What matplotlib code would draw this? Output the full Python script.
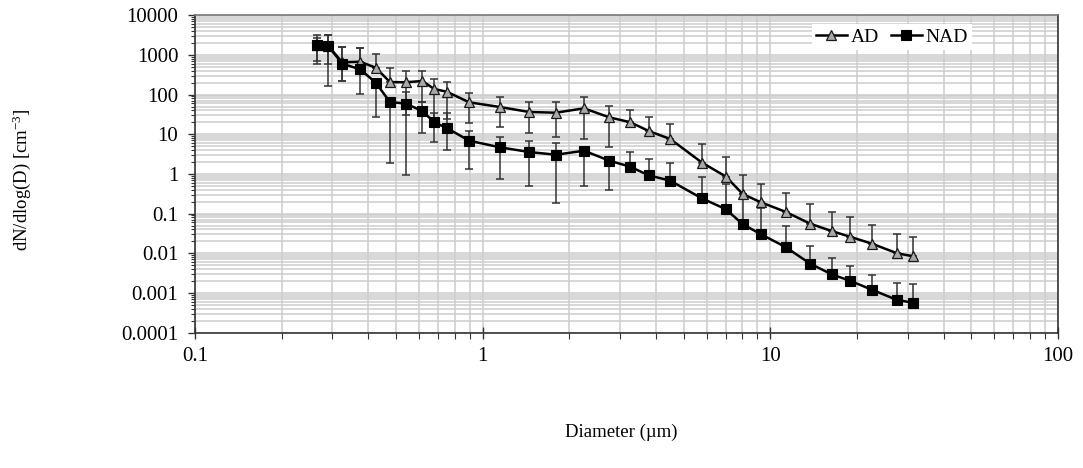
import numpy as np
import matplotlib
matplotlib.use("Agg")
import matplotlib.pyplot as plt
from matplotlib.ticker import FixedLocator, FixedFormatter, LogLocator, NullFormatter
from matplotlib.lines import Line2D

# Particle diameter bins (µm)
diameter_um = [0.265, 0.290, 0.325, 0.375, 0.425, 0.476, 0.541, 0.617, 0.679, 0.750,
               0.898, 1.148, 1.452, 1.798, 2.25, 2.755, 3.26, 3.776, 4.49, 5.78,
               7.01, 8.01, 9.27, 11.3, 13.76, 16.33, 18.91, 22.55, 27.6, 31.3]

# AD series: mean dN/dlog(D) and the ends of its error bars (None = no bar on that side)
ad_values = [1800, 1700, 650, 673, 475, 207, 204, 220, 138, 118,
             63.8, 48.6, 36.4, 34.9, 45.1, 26.7, 20.1, 12.1, 7.59, 1.94,
             0.857, 0.313, 0.193, 0.111, 0.0557, 0.0365, 0.0262, 0.0175, 0.0100, 0.00845]
ad_upper = [3170, 3170, 1550, 1465, 1033, 459, 399, 399, 247, 211,
            111, 85.3, 63.8, 63.8, 85.3, 51.5, 40.8, 27.7, 18.4, 5.68,
            2.6, 0.968, 0.568, 0.337, 0.175, 0.11, 0.0837, 0.0526, 0.0312, 0.0258]
ad_lower = [712, 578, 220, None, None, None, 30.5, 63.8, 22.9, 24.2,
            19.5, 15.0, 10.9, 8.67, 7.59, 4.86, None, None, None, None,
            None, None, None, None, None, None, None, None, None, None]

# NAD series
nad_values = [1774, 1702, 600, 433, 199, 65, 58.9, 38.5, 20.0, 14.4,
              6.88, 4.69, 3.57, 3.05, 3.85, 2.16, 1.52, 0.925, 0.676, 0.243,
              0.129, 0.0542, 0.0303, 0.0144, 0.00547, 0.00296, 0.00204, 0.00121, 0.000667, 0.00057]
nad_upper = [2660, 3170, 1550, 1465, None, None, 114, 63.8, 34.9, 34.9,
             12.3, 8.67, 6.88, 5.92, None, None, 3.57, 2.42, 1.85, 0.851,
             0.548, 0.313, 0.135, 0.0488, 0.0153, 0.0075, 0.00471, 0.00279, 0.00176, 0.00166]
nad_lower = [578, 167, 220, 103, 27.7, 1.85, 0.94, 10.9, 6.49, 4.01,
             1.33, 0.733, 0.497, 0.185, 0.5, 0.4, None, None, None, None,
             None, None, None, None, None, None, None, None, None, None]

series_labels = ["AD", "NAD"]
y_ticks = [1e-4, 1e-3, 1e-2, 1e-1, 1, 10, 100, 1000, 10000]
y_tick_labels = ["0.0001", "0.001", "0.01", "0.1", "1", "10", "100", "1000", "10000"]
x_ticks = [0.1, 1, 10, 100]
x_tick_labels = ["0.1", "1", "10", "100"]

plt.rcParams['font.family'] = ['Liberation Serif', 'DejaVu Serif']
plt.rcParams['mathtext.fontset'] = 'custom'
plt.rcParams['mathtext.rm'] = 'Liberation Serif'
plt.rcParams['mathtext.it'] = 'Liberation Serif:italic'


def error_span(values, upper, lower):
    v = np.asarray(values, float)
    up = np.array([np.nan if u is None else u for u in upper], float)
    lo = np.array([np.nan if l is None else l for l in lower], float)
    err_up = np.where(np.isnan(up), 0.0, up - v)
    err_lo = np.where(np.isnan(lo), 0.0, v - lo)
    return np.vstack([err_lo, err_up])


W, H = 1083, 468
fig = plt.figure(figsize=(W / 100, H / 100), dpi=100)
left, right, top, bottom = 195, 1058, 15.2, 332.7
ax = fig.add_axes([left / W, 1 - bottom / H, (right - left) / W, (bottom - top) / H])
ax.set_xscale('log')
ax.set_yscale('log')
ax.set_xlim(0.1, 100)
ax.set_ylim(1e-4, 1e4)

# grid
ax.set_axisbelow(True)
ax.grid(which='both', axis='both', color='#cdcdcd', linewidth=1.1)

err_style = dict(fmt='none', ecolor='#333333', elinewidth=1.1, capsize=2.8, capthick=1.1)
ax.errorbar(diameter_um, ad_values, yerr=error_span(ad_values, ad_upper, ad_lower),
            zorder=3, **err_style)
ax.errorbar(diameter_um, nad_values, yerr=error_span(nad_values, nad_upper, nad_lower),
            zorder=3, **err_style)

ad_style = dict(color='black', linewidth=1.8, marker='^', markersize=7.5,
                markerfacecolor='#a8a8a8', markeredgecolor='#1a1a1a', markeredgewidth=0.9)
nad_style = dict(color='black', linewidth=1.8, marker='s', markersize=6.5,
                 markerfacecolor='black', markeredgecolor='black', markeredgewidth=0.8)
ax.plot(diameter_um, ad_values, zorder=4, **ad_style)
ax.plot(diameter_um, nad_values, zorder=5, **nad_style)

# ticks
ax.xaxis.set_major_locator(FixedLocator(x_ticks))
ax.xaxis.set_major_formatter(FixedFormatter(x_tick_labels))
ax.xaxis.set_minor_locator(LogLocator(base=10, subs=np.arange(2, 10), numticks=20))
ax.xaxis.set_minor_formatter(NullFormatter())
ax.yaxis.set_major_locator(FixedLocator(y_ticks))
ax.yaxis.set_major_formatter(FixedFormatter(y_tick_labels))
ax.yaxis.set_minor_locator(LogLocator(base=10, subs=np.arange(2, 10), numticks=20))
ax.yaxis.set_minor_formatter(NullFormatter())

ax.tick_params(axis='x', which='major', direction='inout', length=9, width=1.0,
               pad=6, labelsize=15, color='#333333')
ax.tick_params(axis='x', which='minor', direction='out', length=4, width=0.8, color='#333333')
ax.tick_params(axis='y', which='major', direction='out', length=5, width=1.0,
               pad=7, labelsize=15, color='#333333')
ax.tick_params(axis='y', which='minor', direction='out', length=3, width=0.8, color='#333333')

for name, sp in ax.spines.items():
    sp.set_color('#333333')
    sp.set_linewidth(1.2)
ax.spines['top'].set_color('#777777')

# legend
handles = [Line2D([], [], **ad_style), Line2D([], [], **nad_style)]
leg = fig.legend(handles, series_labels, loc='center', bbox_to_anchor=(892 / W, 1 - 37 / H),
                 ncol=2, fontsize=14, frameon=True, fancybox=False, framealpha=1,
                 facecolor='white', edgecolor='none', handlelength=1.6, handletextpad=0.2,
                 columnspacing=0.6, borderpad=0.2)

fig.text(22 / W, 1 - 180 / H, r'dN/dlog(D) [cm$^{\mathrm{-3}}$]', rotation=90,
         ha='center', va='center', fontsize=13.5)
fig.text(621 / W, 1 - 432 / H, 'Diameter (µm)', ha='center', va='center', fontsize=13.5)

fig.savefig('out.png', dpi=100, facecolor='white')
